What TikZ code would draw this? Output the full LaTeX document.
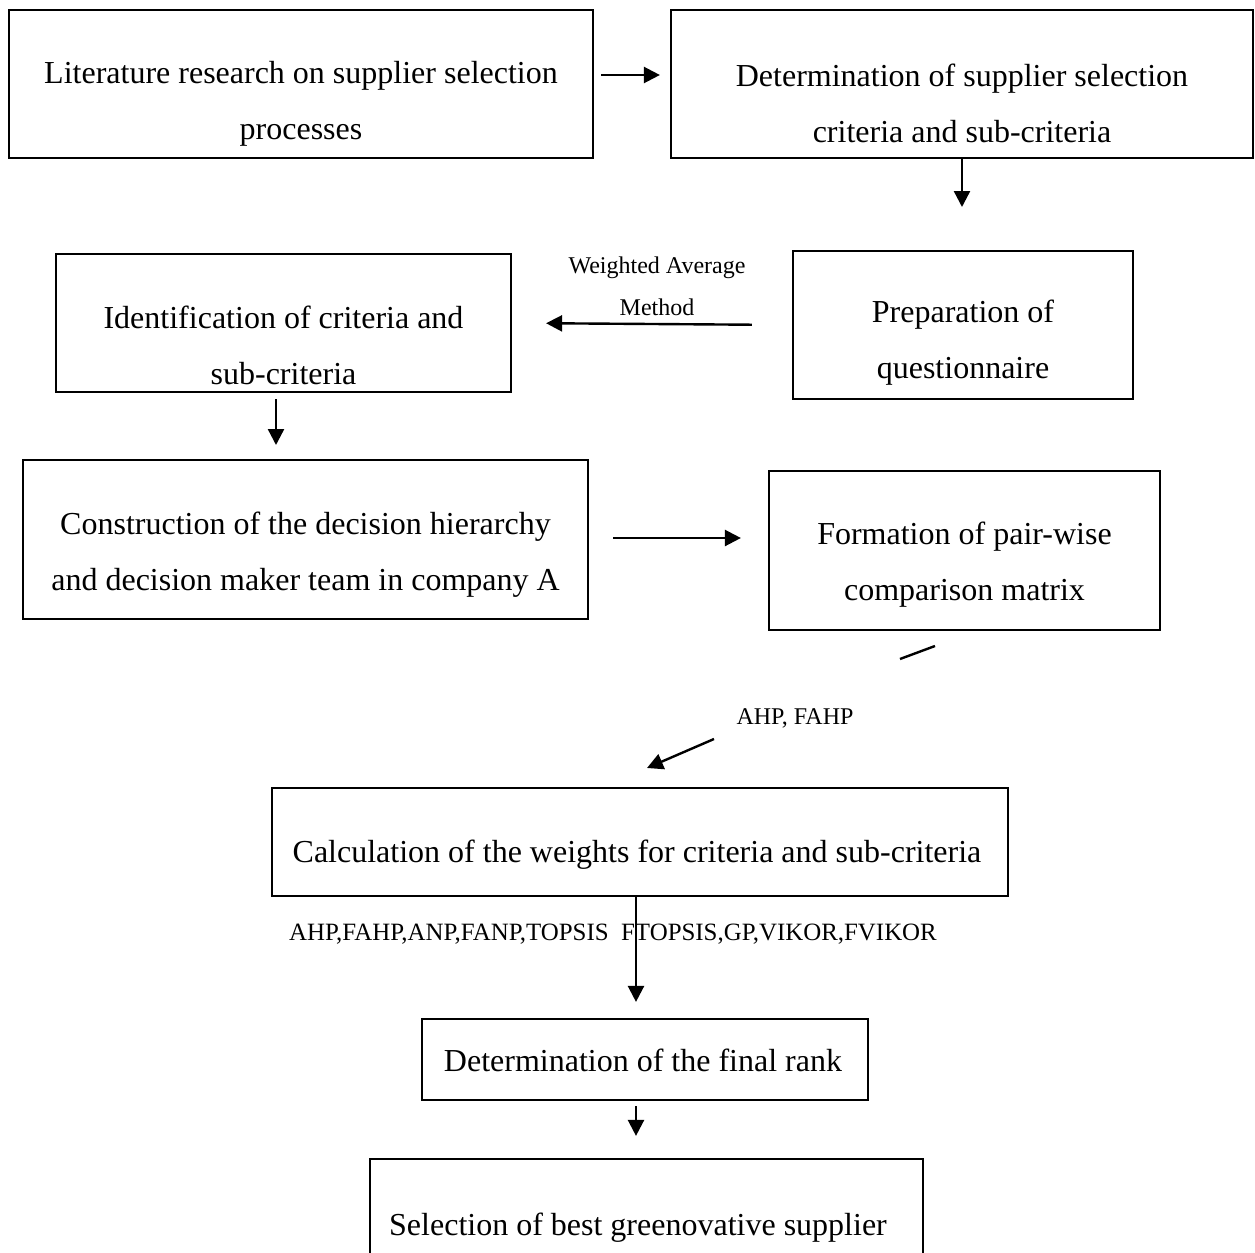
\documentclass[tikz,border=0pt]{standalone}
\usepackage{fontspec}
\setmainfont{Liberation Serif}
\usetikzlibrary{arrows.meta}
\begin{document}
\begin{tikzpicture}[x=0.5pt,y=-0.5pt,
  box/.style={draw, line width=1.1pt, rectangle, inner sep=0pt},
  main/.style={font=\fontsize{16}{28}\selectfont, align=center, inner sep=0pt},
  note/.style={font=\fontsize{12}{21}\selectfont, align=center, inner sep=0pt},
  arr/.style={line width=1.2pt, -{Triangle[length=8pt,width=8pt]}},
  plain/.style={line width=1.2pt}]
\clip (0,0) rectangle (1255,1253);

% frames of the process steps
\node[box, minimum width=292pt,   minimum height=74pt]   (b1) at (301,84) {};
\node[box, minimum width=291pt,   minimum height=74pt]   (b2) at (962,84) {};
\node[box, minimum width=227.5pt, minimum height=69pt]   (b3) at (283.5,323) {};
\node[box, minimum width=170pt,   minimum height=74pt]   (b4) at (963,325) {};
\node[box, minimum width=282.5pt, minimum height=79.5pt] (b5) at (305.5,539.5) {};
\node[box, minimum width=195.5pt, minimum height=79.5pt] (b6) at (964.5,550.5) {};
\node[box, minimum width=368pt,   minimum height=54pt]   (b7) at (640,842) {};
\node[box, minimum width=223pt,   minimum height=40.5pt] (b8) at (645,1059.5) {};
\node[box, minimum width=276.5pt, minimum height=58pt]   (b9) at (646.5,1217) {};

% step texts
\node[main] (t1) at (301,104)   {Literature research on supplier selection\\processes};
\node[main] (t2) at (962,103.5) {Determination of supplier selection\\criteria and sub-criteria};
\node[main] (t3) at (283.5,345.5) {Identification of criteria and\\sub-criteria};
\node[main] (t4) at (963,343) {Preparation of\\questionnaire};
\node[main] (t5) at (305.5,554.5) {Construction of the decision hierarchy\\and decision maker team in company A};
\node[main] (t6) at (964.5,564.5) {Formation of pair-wise\\comparison matrix};
\node[main] (t7) at (637,855)   {Calculation of the weights for criteria and sub-criteria};
\node[main] (t8) at (643,1060)  {Determination of the final rank};
\node[main] (t9) at (638,1228)  {Selection of best greenovative supplier};

% method labels
\node[note] (n1) at (657,286) {Weighted Average\\Method};
\node[note] (n2) at (795,718) {AHP, FAHP};
\node[note, font=\fontsize{12.45}{21}\selectfont] (n3) at (613,934) {AHP,FAHP,ANP,FANP,TOPSIS\ \ FTOPSIS,GP,VIKOR,FVIKOR};

% free ends of connectors
\coordinate (c2) at (962,207);
\coordinate (c4) at (276,445);
\coordinate (s6) at (935,646);
\coordinate (e6) at (900,659);
\coordinate (s7) at (714,739);
\coordinate (e7) at (647,768);

% connectors
\draw[arr, shorten <=3.5pt, shorten >=5pt] (b1.east |- 0,75) -- (b2.west |- 0,75);
\draw[arr] (b2.south) -- (c2);
\draw[arr, shorten <=20pt, shorten >=17pt] (b4.west) -- (b3.east);
\draw[arr, shorten <=3pt] (b3.south -| c4) -- (c4);
\draw[arr, shorten <=12pt, shorten >=13.5pt] (b5.east |- 0,538) -- (b6.west |- 0,538);
\draw[plain] (s6) -- (e6);
\draw[arr] (s7) -- (e7);
\draw[arr, shorten >=8pt] (b7.south -| 636,0) -- (b8.north -| 636,0);
\draw[arr, shorten <=2.5pt, shorten >=11pt] (b8.south -| 636,0) -- (b9.north -| 636,0);
\end{tikzpicture}
\end{document}
